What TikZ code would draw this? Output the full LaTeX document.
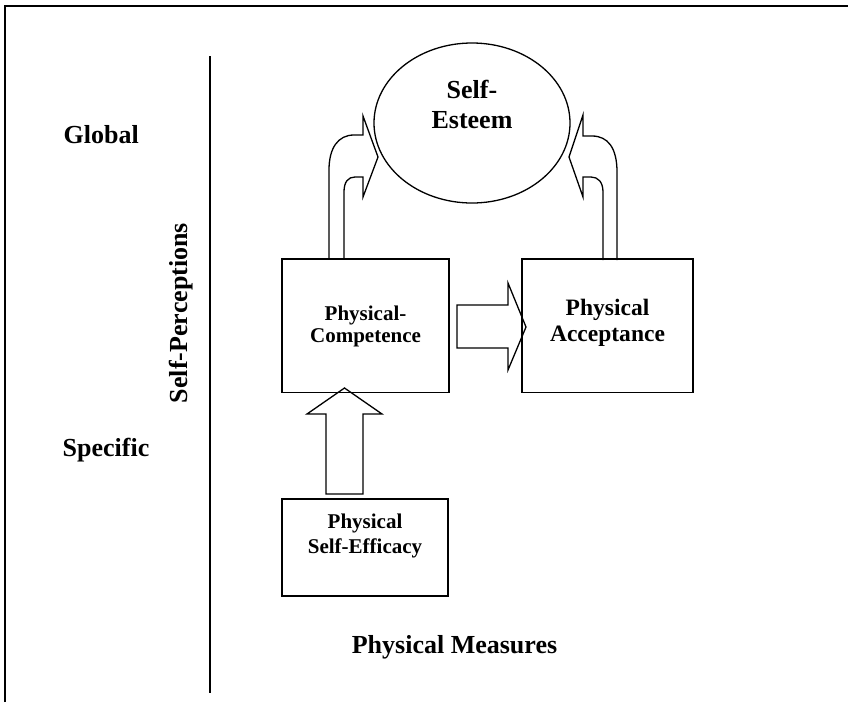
\documentclass[tikz,border=0pt]{standalone}
\usepackage{fontspec}
\setmainfont{Liberation Serif}
\usetikzlibrary{shapes.geometric}
\begin{document}
\begin{tikzpicture}[x=1pt,y=-1pt,line width=1.3pt,line join=miter,
  boxnode/.style={draw,rectangle,inner sep=0pt},
  bigtext/.style={font=\fontsize{26}{30}\selectfont\bfseries},
  boxtext/.style={font=\fontsize{21}{22}\selectfont\bfseries,align=center,inner sep=0pt},
  blockarrow/.style={draw,line width=1.3pt}]
\useasboundingbox (0,0) rectangle (848,702);

% outer frame and the scale line
\draw[line width=1.4pt] (5,702) -- (5,6) -- (848,6);
\coordinate (scaletop) at (210,56);
\coordinate (scalebot) at (210,693);
\draw[line width=1.4pt] (scaletop) -- (scalebot);

% scale labels
\node[bigtext,anchor=base west,inner sep=0pt] (global) at (63,143) {Global};
\node[bigtext,anchor=base west,inner sep=0pt] (specific) at (62,456) {Specific};
\node[bigtext,anchor=base,rotate=90,inner sep=0pt] (selfperc) at (187,313) {Self-Perceptions};
\node[bigtext,anchor=base,inner sep=0pt] (measures) at (454.5,653) {Physical Measures};

% constructs
\node[draw,ellipse,inner sep=0pt,minimum width=196pt,minimum height=160pt] (esteem) at (472,123) {};
\node[bigtext,align=center,inner sep=0pt] (esteemtext) at (472,104) {Self-\\Esteem};

\node[boxnode,minimum width=167pt,minimum height=133.5pt] (comp) at (365.5,325.75) {};
\node[boxtext] (comptext) at (365.5,326.7) {Physical-\\Competence};

\node[boxnode,minimum width=171pt,minimum height=133.5pt] (accept) at (607.5,325.75) {};
\node[boxtext,font=\fontsize{23.5}{26}\selectfont\bfseries] (accepttext) at (607.5,322.6) {Physical\\Acceptance};

\node[boxnode,minimum width=166pt,minimum height=97pt] (eff) at (365,547.5) {};
\node[boxtext,font=\fontsize{21}{25}\selectfont\bfseries] (efftext) at (365,535.7) {Physical\\Self-Efficacy};

% block arrow: self-efficacy up to competence
\draw[blockarrow] (326,494) -- (326,414) -- (307,414) -- (344.5,388)
  -- (382,414) -- (363,414) -- (363,494) -- cycle;

% block arrow: competence to acceptance
\draw[blockarrow] (457,305) -- (508,305) -- (508,283) -- (526,327)
  -- (508,370) -- (508,348) -- (457,348) -- cycle;

% curved arrow: competence up to self-esteem
\draw[blockarrow] (329,259) -- (329,170)
  .. controls (329,148) and (338,135) .. (354,135) -- (363,135)
  -- (363,116) -- (378,157) -- (363,197) -- (363,177) -- (355,177)
  .. controls (348,177) and (344,182) .. (344,192) -- (344,259);

% curved arrow: acceptance up to self-esteem
\draw[blockarrow] (617,260) -- (617,172)
  .. controls (617,148) and (608,136) .. (592,136) -- (583,136)
  -- (583,115) -- (569,157) -- (583,197) -- (583,177) -- (591,177)
  .. controls (598,177) and (603,182) .. (603,192) -- (603,260);
\end{tikzpicture}
\end{document}
